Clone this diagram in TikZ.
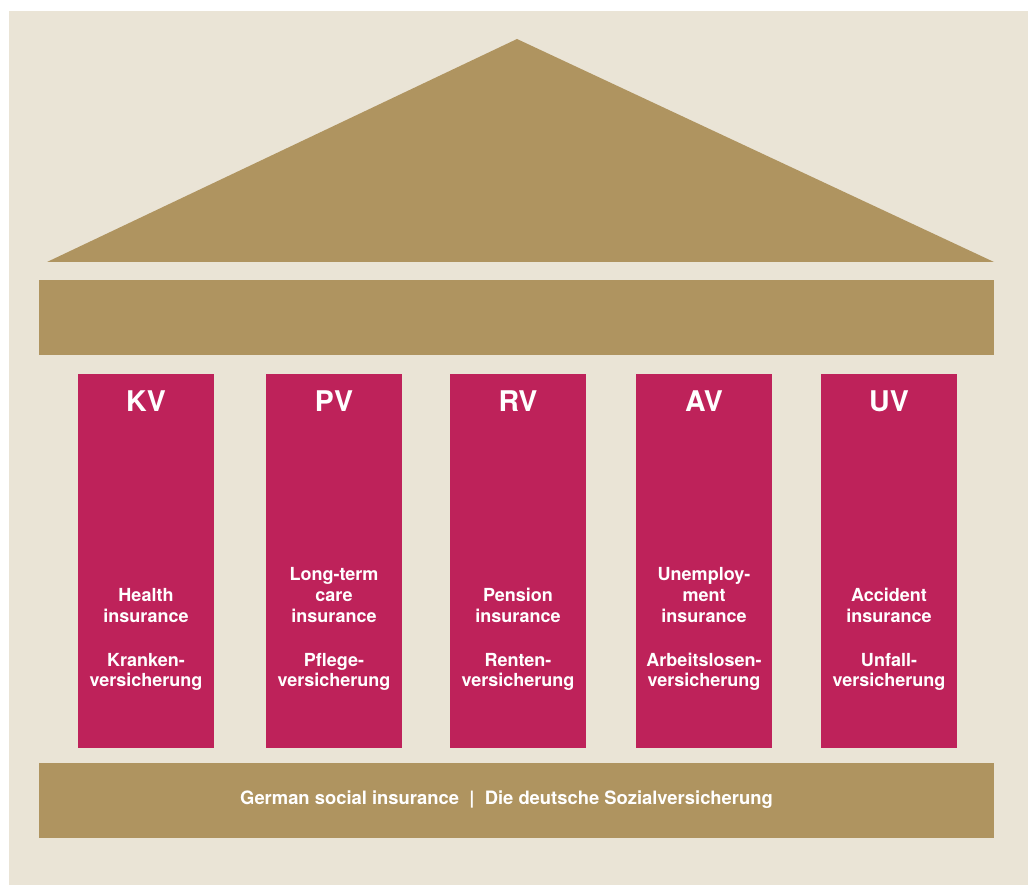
\documentclass[tikz,border=0pt]{standalone}
\usepackage{fontspec}
\setmainfont{TeX Gyre Heros}
\definecolor{beige}{HTML}{EAE4D6}
\definecolor{gold}{HTML}{AF9460}
\definecolor{crim}{HTML}{BE225A}
\begin{document}
\begin{tikzpicture}[x=1pt,y=-1pt,
  pillar/.style={fill=crim,draw=none},
  goldpart/.style={fill=gold,draw=none},
  title/.style={text=white,font=\fontsize{28.5}{30}\selectfont\bfseries,anchor=base,inner sep=0pt},
  body/.style={text=white,font=\fontsize{18}{20.7}\selectfont\bfseries,align=center,anchor=south,inner sep=0pt},
  foot/.style={text=white,font=\fontsize{18.4}{21}\selectfont\bfseries,inner sep=0pt}]
\useasboundingbox (0,0) rectangle (1028,885);
\fill[white] (0,0) rectangle (1028,885);
\fill[beige] (9,11) rectangle (1028,885);
% roof
\fill[gold] (47,262) -- (517,39) -- (994,262) -- cycle;
% architrave
\node[goldpart,minimum width=955pt,minimum height=75pt,inner sep=0pt,anchor=north west] (arch) at (39,280) {};
% base
\node[goldpart,minimum width=955pt,minimum height=75pt,inner sep=0pt,anchor=north west] (base) at (39,763) {};
\node[foot,anchor=base west] (footer) at (240,804) {German social insurance\ \ |\ \ Die deutsche Sozialversicherung};
% pillars
\foreach \n/\x/\t/\txt in {
  kv/78/KV/{Health\\insurance\\[23.3pt]Kranken-\\versicherung},
  pv/266/PV/{Long-term\\care\\insurance\\[23.3pt]Pflege-\\versicherung},
  rv/450/RV/{Pension\\insurance\\[23.3pt]Renten-\\versicherung},
  av/636/AV/{Unemploy-\\ment\\insurance\\[23.3pt]Arbeitslosen-\\versicherung},
  uv/821/UV/{Accident\\insurance\\[23.3pt]Unfall-\\versicherung}}{
  \node[pillar,minimum width=136pt,minimum height=374pt,inner sep=0pt,anchor=north west] (\n) at (\x,374) {};
  \node[title] (\n-t) at (\x+68,411) {\t};
  \node[body] (\n-b) at (\x+68,691) {\txt};
}
\end{tikzpicture}
\end{document}
